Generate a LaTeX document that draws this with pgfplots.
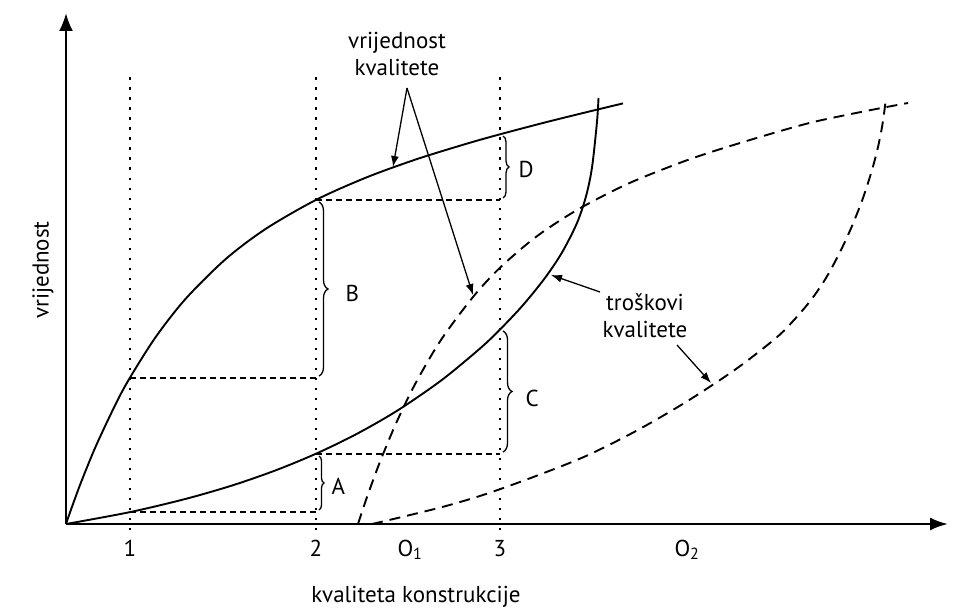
\documentclass[border=0pt]{standalone}
\usepackage{pgfplots}
\pgfplotsset{compat=1.18}
\usepackage{fontspec}
\setmainfont{PT Sans}
\usetikzlibrary{arrows.meta,decorations.pathreplacing}

\newcommand{\lblfont}{\fontsize{23}{27}\selectfont}

\begin{document}
\begin{tikzpicture}
\begin{axis}[
  x=1pt, y=1pt, scale only axis,
  xmin=0, xmax=882, ymin=0, ymax=511,
  axis lines=left,
  axis line style={line width=2.4pt},
  x axis line style={-{Latex[length=18pt,width=13pt]}},
  y axis line style={-{Latex[length=18pt,width=14pt]}},
  xtick={64,250,344,434,621},
  xticklabels={1,2,O\textsubscript{1},3,O\textsubscript{2}},
  ytick=\empty,
  major tick length=0pt,
  xticklabel style={anchor=base, yshift=-32pt, font=\lblfont},
  xlabel={kvaliteta konstrukcije},
  ylabel={vrijednost},
  every axis x label/.style={at={(axis description cs:0.3968,-0.1429)}, anchor=center, font=\lblfont},
  every axis y label/.style={at={(axis description cs:-0.0261,0.497)}, rotate=90, anchor=center, font=\lblfont},
  clip=false,
]
% invisible frame fixing the picture size
\path (axis cs:-66,-87) rectangle (axis cs:894,524);

% vertical dotted guides at 1, 2, 3
\addplot[line width=2pt, dash pattern=on 2.5pt off 7.5pt] coordinates {(64,-6) (64,454)};
\addplot[line width=2pt, dash pattern=on 2.5pt off 7.5pt] coordinates {(250,-6) (250,454)};
\addplot[line width=2pt, dash pattern=on 2.5pt off 7.5pt] coordinates {(434,-6) (434,454)};

% horizontal dashed guides
\addplot[line width=1.6pt, dash pattern=on 6pt off 4pt] coordinates {(64,146) (250,146)};
\addplot[line width=1.6pt, dash pattern=on 6pt off 4pt] coordinates {(250,324) (434,324)};
\addplot[line width=1.6pt, dash pattern=on 6pt off 4pt] coordinates {(64,12) (250,12)};
\addplot[line width=1.6pt, dash pattern=on 6pt off 4pt] coordinates {(250,70) (434,70)};

% value of quality (solid)
\addplot[line width=1.9pt, smooth] coordinates {
(0,0) (5,14.4) (15,41.6) (30,78.2) (50,120.6) (64,146.4) (90,187.4) (120,225.6)
(160,265.2) (200,295.3) (250,324.1) (300,346.4) (350,364.6) (400,380.1) (434,389.7)
(480,401.8) (520,411.7) (557,420.6)};

% cost of quality (solid)
\addplot[line width=1.9pt, smooth] coordinates {
(0,0) (64,11.9) (120,25.2) (167,38.8) (210,53.8) (250,70.3) (290,89.7) (331,113.2)
(375,143.4) (414,175.5) (434,194.5) (457,218.9) (479,246.1) (496,271.5) (511,301)
(520,327.7) (526,356.5) (531,402.3) (532.5,426)};

% value of quality (dashed)
\addplot[line width=1.9pt, smooth, dash pattern=on 11pt off 7pt] coordinates {
(292,0) (297,15.3) (304,35.4) (315,64.8) (331,102.8) (350,141.6) (375,184.1)
(407,227) (434,256.3) (470,287.1) (511,314) (560,339.4) (610,359.7) (647,372.6)
(700,388.8) (747,401.9) (800,413) (842,421)};

% cost of quality (dashed)
\addplot[line width=1.9pt, smooth, dash pattern=on 11pt off 7pt] coordinates {
(306,0) (340,8) (380,18) (420,30) (470,48) (520,68) (570,93) (620,122) (670,155)
(710,186) (728,204) (745,224) (760,246) (774,272) (786,298) (797,326) (806,354)
(812,377) (816,397) (818.5,414) (820,427)};

% braces
\draw[line width=1.3pt, decorate, decoration={brace, amplitude=9pt}] (axis cs:253,322) -- (axis cs:253,148);
\node[font=\lblfont, anchor=west] at (axis cs:276,231) {B};
\draw[line width=1.3pt, decorate, decoration={brace, amplitude=5pt}] (axis cs:253,68) -- (axis cs:253,14);
\node[font=\lblfont, anchor=west] at (axis cs:262,38) {A};
\draw[line width=1.3pt, decorate, decoration={brace, amplitude=9pt}] (axis cs:437,193) -- (axis cs:437,72);
\node[font=\lblfont, anchor=west] at (axis cs:456,126) {C};
\draw[line width=1.3pt, decorate, decoration={brace, amplitude=6pt}] (axis cs:437,388) -- (axis cs:437,326);
\node[font=\lblfont, anchor=west] at (axis cs:449,355) {D};

% annotations
\node[font=\lblfont, align=center] at (axis cs:331,470) {vrijednost\\kvalitete};
\draw[line width=1.3pt, -{Latex[length=11pt,width=8pt]}] (axis cs:341,436) -- (axis cs:327,357);
\draw[line width=1.3pt, -{Latex[length=11pt,width=8pt]}] (axis cs:341,436) -- (axis cs:407,229);
\node[font=\lblfont, align=center] at (axis cs:579,208) {troškovi\\kvalitete};
\draw[line width=1.3pt, -{Latex[length=11pt,width=8pt]}] (axis cs:534,232) -- (axis cs:485,249);
\draw[line width=1.3pt, -{Latex[length=11pt,width=8pt]}] (axis cs:611,179) -- (axis cs:645,141);
\end{axis}
\end{tikzpicture}
\end{document}
